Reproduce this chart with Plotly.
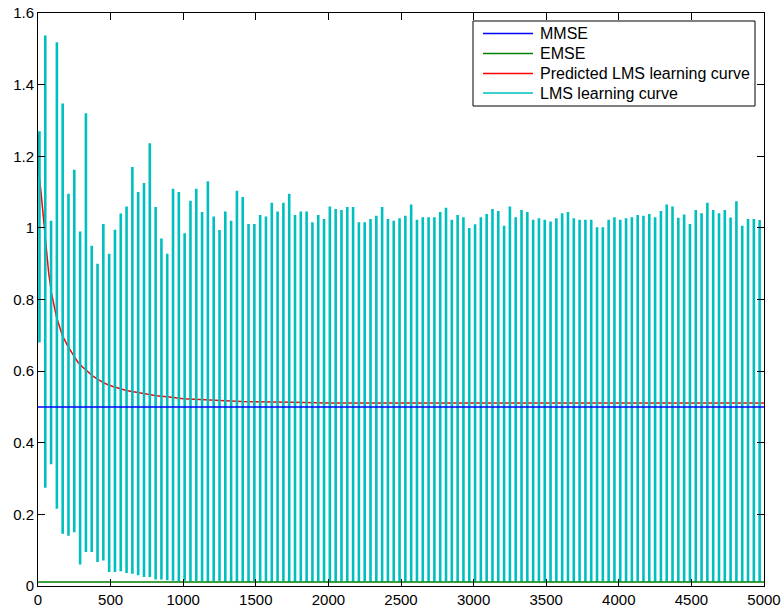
import plotly.graph_objects as go

# ---------------- data ----------------
x_min, x_max = 0, 5000
y_min, y_max = 0, 1.6

x_tick_vals = [0, 500, 1000, 1500, 2000, 2500, 3000, 3500, 4000, 4500, 5000]
x_tick_text = ["0", "500", "1000", "1500", "2000", "2500", "3000", "3500", "4000", "4500", "5000"]
y_tick_vals = [0, 0.2, 0.4, 0.6, 0.8, 1.0, 1.2, 1.4, 1.6]
y_tick_text = ["0", "0.2", "0.4", "0.6", "0.8", "1", "1.2", "1.4", "1.6"]

mmse_level = 0.5
emse_level = 0.011

# predicted LMS learning curve (read points)
pred_x = [0, 7, 23, 34, 53, 73, 92, 126, 167, 206, 245, 275, 309, 344, 378, 424,
          470, 516, 562, 608, 677, 745, 814, 906, 1000, 1150, 1400, 1750, 2000,
          3000, 4000, 5000]
pred_y = [1.263, 1.15, 1.09, 1.04, 0.95, 0.876, 0.82, 0.753, 0.70, 0.669, 0.644,
          0.625, 0.611, 0.597, 0.586, 0.574, 0.564, 0.557, 0.551, 0.546, 0.541,
          0.535, 0.531, 0.528, 0.523, 0.52, 0.515, 0.513, 0.511, 0.511, 0.511, 0.511]

# LMS learning curve: one oscillation every 40 iterations, first at n = 10
lms_first = 10
lms_step = 40
lms_peak = [
    1.27, 1.537, 1.02, 1.518, 1.347, 1.095, 1.162, 0.99, 1.32, 0.95, 0.90,
    1.011, 0.928, 0.995, 1.04, 1.06, 1.17, 1.10, 1.125, 1.236, 1.058, 0.97,
    0.928, 1.109, 1.10, 0.985, 1.076, 1.109, 1.044, 1.13, 1.032, 0.994, 1.046,
    1.02, 1.104, 1.086, 1.011, 1.011, 1.036, 1.032, 1.07, 1.046, 1.07, 1.095,
    1.036, 1.046, 1.046, 1.016, 1.036, 1.025, 1.06, 1.053, 1.05, 1.058, 1.058,
    1.016, 1.016, 1.025, 1.034, 1.058, 1.025, 1.02, 1.027,
    1.034, 1.065, 1.023, 1.03, 1.03, 1.03, 1.044, 1.056, 1.023, 1.036, 1.03,
    1.0, 1.01, 1.03, 1.039, 1.053, 1.047, 1.006, 1.06, 1.03,
    1.05, 1.044, 1.023, 1.027, 1.023, 1.018, 1.027, 1.041, 1.044, 1.027, 1.023,
    1.023, 1.023, 1.002, 1.002, 1.023, 1.03, 1.023, 1.027, 1.03, 1.036,
    1.034, 1.039, 1.03, 1.047, 1.065, 1.06, 1.028, 1.037, 1.011, 1.05, 1.041,
    1.07, 1.05, 1.041, 1.05, 1.029, 1.074, 1.006, 1.025, 1.025, 1.022,
]
lms_trough = [
    0.68, 0.274, 0.34, 0.216, 0.146, 0.14, 0.15, 0.06, 0.095, 0.095, 0.067,
    0.071, 0.039, 0.039, 0.041, 0.036, 0.034, 0.03, 0.025, 0.025, 0.018, 0.018,
    0.016, 0.015, 0.014, 0.015, 0.013, 0.014, 0.013, 0.012, 0.013, 0.014, 0.012,
    0.013, 0.012, 0.013, 0.012, 0.014, 0.012, 0.013, 0.012, 0.012, 0.013, 0.012,
    0.012, 0.013, 0.012, 0.012, 0.013, 0.012, 0.012, 0.012, 0.013, 0.012, 0.012,
    0.012, 0.013, 0.012, 0.012, 0.012, 0.012, 0.013, 0.012,
    0.012, 0.012, 0.013, 0.012, 0.012, 0.012, 0.012, 0.013, 0.012, 0.012, 0.012,
    0.012, 0.012, 0.013, 0.012, 0.012, 0.012, 0.012, 0.012, 0.013,
    0.012, 0.012, 0.012, 0.013, 0.012, 0.012, 0.012, 0.012, 0.013, 0.012, 0.012,
    0.012, 0.012, 0.012, 0.013, 0.012, 0.012, 0.012, 0.012, 0.012, 0.013,
    0.012, 0.012, 0.012, 0.012, 0.013, 0.012, 0.012, 0.012, 0.012, 0.012, 0.013,
    0.012, 0.012, 0.012, 0.012, 0.012, 0.013, 0.012, 0.012, 0.012, 0.012,
]

series_names = ["MMSE", "EMSE", "Predicted LMS learning curve", "LMS learning curve"]
series_colors = ["#0000FF", "#008000", "#FF0000", "#00BFBF"]

FONT = "Liberation Sans, Arial, Helvetica, sans-serif"

# ---------------- build figure ----------------
lms_x, lms_y = [], []
for i, (hi, lo) in enumerate(zip(lms_peak, lms_trough)):
    n = lms_first + lms_step * i
    lms_x += [n, n, None]
    lms_y += [lo, hi, None]

fig = go.Figure()
# draw order: predicted curve under the LMS curve, reference levels on top
fig.add_trace(go.Scatter(x=pred_x, y=pred_y, mode="lines", showlegend=False,
                         name=series_names[2], line=dict(color=series_colors[2], width=1.5)))
fig.add_trace(go.Scatter(x=lms_x, y=lms_y, mode="lines", connectgaps=False, showlegend=False,
                         name=series_names[3], line=dict(color=series_colors[3], width=2.6)))
fig.add_trace(go.Scatter(x=[x_min, x_max], y=[emse_level, emse_level], mode="lines", showlegend=False,
                         name=series_names[1], line=dict(color=series_colors[1], width=1.5)))
fig.add_trace(go.Scatter(x=[x_min, x_max], y=[mmse_level, mmse_level], mode="lines", showlegend=False,
                         name=series_names[0], line=dict(color=series_colors[0], width=1.5)))

axis_common = dict(showline=True, linecolor="black", linewidth=1, mirror="ticks",
                   ticks="inside", ticklen=7, tickcolor="black", tickwidth=1,
                   showgrid=False, zeroline=False, automargin=False,
                   tickfont=dict(family=FONT, size=15, color="black"))

# legend box drawn in paper coordinates (MATLAB-style legend)
plot_l, plot_r, plot_t, plot_b = 38, 764, 13, 586
W, H = 784, 607
def px(xp):
    return (xp - plot_l) / (plot_r - plot_l)
def py(yp):
    return (plot_b - yp) / (plot_b - plot_t)

shapes = [dict(type="rect", xref="paper", yref="paper",
               x0=px(473), x1=px(755), y0=py(106), y1=py(21),
               line=dict(color="black", width=1), fillcolor="white", layer="above")]
annotations = []
row_y = [33.5, 53.5, 73.5, 93]
for name, color, ry in zip(series_names, series_colors, row_y):
    shapes.append(dict(type="line", xref="paper", yref="paper",
                       x0=px(483), x1=px(533), y0=py(ry), y1=py(ry),
                       line=dict(color=color, width=1.5), layer="above"))
    annotations.append(dict(xref="paper", yref="paper", x=px(538), y=py(ry),
                            xanchor="left", yanchor="middle", text=name, showarrow=False,
                            font=dict(family=FONT, size=16, color="black")))

fig.update_layout(
    width=W, height=H, autosize=False,
    margin=dict(l=plot_l, r=W - plot_r, t=plot_t, b=H - plot_b, pad=0),
    paper_bgcolor="white", plot_bgcolor="white",
    xaxis=dict(range=[x_min, x_max], tickvals=x_tick_vals, ticktext=x_tick_text, **axis_common),
    yaxis=dict(range=[y_min, y_max], tickvals=y_tick_vals, ticktext=y_tick_text, **axis_common),
    shapes=shapes, annotations=annotations,
    showlegend=False,
)

fig.write_html("out.html")
